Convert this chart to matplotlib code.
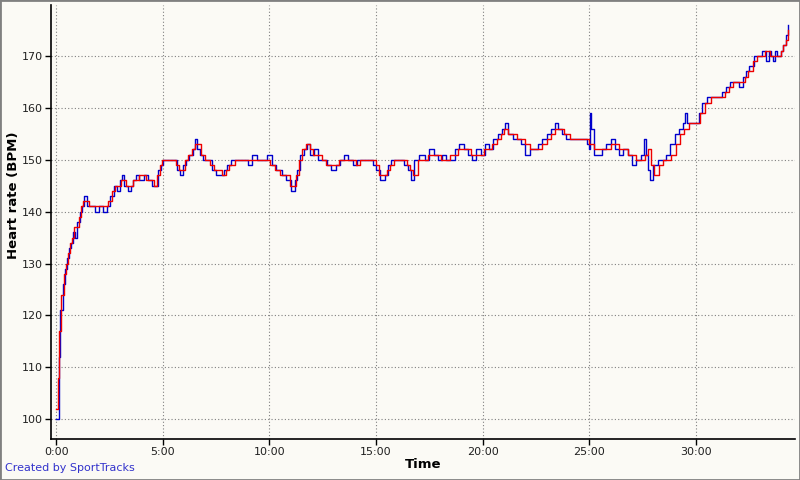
import matplotlib
matplotlib.use("Agg")
import matplotlib.pyplot as plt
from matplotlib.ticker import FuncFormatter, MultipleLocator

blue_time = [0, 0.08, 0.12, 0.2, 0.3, 0.4, 0.5, 0.6, 0.7, 0.8, 0.9, 1.0, 1.1, 1.2, 1.3, 1.45,
             1.6, 1.7, 1.8, 2.0, 2.2, 2.4, 2.55, 2.7, 2.85, 3.0, 3.1, 3.2, 3.35, 3.5, 3.6, 3.75,
             3.9, 4.1, 4.3, 4.5, 4.7, 4.8, 4.9, 5.0, 5.2, 5.5, 5.65, 5.8, 5.95, 6.1, 6.25, 6.4,
             6.5, 6.6, 6.75, 6.9, 7.1, 7.3, 7.5, 7.7, 7.85, 8.0, 8.2, 8.5, 8.8, 9.0, 9.2, 9.4,
             9.6, 9.9, 10.1, 10.3, 10.6, 10.8, 11.0, 11.2, 11.3, 11.45, 11.6, 11.75, 11.9, 12.1,
             12.3, 12.5, 12.7, 12.9, 13.1, 13.3, 13.5, 13.7, 13.9, 14.1, 14.3, 14.6, 14.85, 15.0,
             15.2, 15.4, 15.55, 15.7, 15.9, 16.1, 16.3, 16.5, 16.65, 16.8, 17.0, 17.3, 17.5, 17.7,
             17.9, 18.1, 18.3, 18.5, 18.7, 18.9, 19.1, 19.3, 19.5, 19.7, 19.9, 20.1, 20.3, 20.5,
             20.7, 20.9, 21.05, 21.2, 21.4, 21.6, 21.8, 22.0, 22.2, 22.4, 22.6, 22.8, 23.0, 23.2,
             23.4, 23.55, 23.7, 23.9, 24.2, 24.6, 24.9, 25.0, 25.05, 25.1, 25.2, 25.4, 25.6, 25.8,
             26.0, 26.2, 26.4, 26.6, 26.8, 27.0, 27.2, 27.4, 27.55, 27.65, 27.75, 27.85, 28.0, 28.2,
             28.4, 28.6, 28.8, 29.0, 29.2, 29.4, 29.5, 29.6, 29.8, 30.0, 30.15, 30.3, 30.5, 30.8,
             31.0, 31.2, 31.4, 31.6, 31.8, 32.0, 32.2, 32.35, 32.5, 32.7, 32.9, 33.1, 33.3, 33.4,
             33.5, 33.6, 33.7, 33.8, 34.0, 34.1, 34.2, 34.3]
blue_hr = [100, 100, 112, 121, 126, 129, 131, 133, 134, 136, 135, 138, 140, 141, 143, 141,
           141, 141, 140, 141, 140, 141, 143, 145, 144, 146, 147, 145, 144, 145, 146, 147,
           146, 147, 146, 145, 145, 148, 149, 150, 150, 150, 148, 147, 149, 150, 151, 152,
           154, 152, 151, 150, 150, 148, 147, 147, 148, 149, 150, 150, 150, 149, 151, 150,
           150, 151, 149, 148, 147, 146, 144, 146, 148, 151, 152, 153, 151, 152,
           150, 150, 149, 148, 149, 150, 151, 150, 149, 150, 150, 150, 149, 148,
           146, 147, 149, 150, 150, 150, 149, 148, 146, 150, 151, 150, 152, 151,
           150, 151, 150, 150, 152, 153, 152, 151, 150, 152, 151, 153, 152, 154,
           155, 156, 157, 155, 154, 154, 153, 151, 152, 152, 153, 154, 155, 156,
           157, 156, 155, 154, 154, 154, 153, 152, 159, 156, 151, 151, 152, 153,
           154, 152, 151, 152, 151, 149, 150, 151, 154, 151, 148, 146, 149, 150,
           150, 151, 153, 155, 156, 157, 159, 157, 157, 157, 159, 161, 162, 162,
           162, 163, 164, 165, 165, 164, 166, 167, 168, 170, 170, 171, 169, 171,
           170, 169, 171, 170, 171, 172, 174, 176]

red_time = [0, 0.1, 0.15, 0.25, 0.35, 0.45, 0.55, 0.65, 0.75, 0.85, 0.95, 1.05, 1.15, 1.25, 1.4,
            1.55, 1.7, 1.85, 2.05, 2.25, 2.45, 2.6, 2.75, 2.9, 3.05, 3.2, 3.3, 3.45, 3.6, 3.75,
            3.9, 4.05, 4.2, 4.4, 4.6, 4.75, 4.85, 4.95, 5.1, 5.4, 5.6, 5.75, 5.9, 6.05, 6.2,
            6.35, 6.5, 6.65, 6.8, 7.0, 7.2, 7.4, 7.6, 7.8, 7.95, 8.1, 8.4, 8.7, 8.95, 9.15, 9.35,
            9.55, 9.85, 10.05, 10.25, 10.5, 10.75, 10.95, 11.15, 11.25, 11.4, 11.55, 11.7, 11.9,
            12.05, 12.25, 12.45, 12.65, 12.85, 13.05, 13.25, 13.45, 13.65, 13.85, 14.05, 14.25,
            14.55, 14.8, 15.0, 15.15, 15.35, 15.5, 15.65, 15.85, 16.05, 16.25, 16.45, 16.6, 16.75,
            16.95, 17.25, 17.45, 17.65, 17.85, 18.05, 18.25, 18.45, 18.65, 18.85, 19.05, 19.25,
            19.45, 19.65, 19.85, 20.05, 20.25, 20.45, 20.65, 20.85, 21.0, 21.2, 21.4, 21.6, 21.8,
            22.0, 22.2, 22.4, 22.6, 22.8, 23.0, 23.2, 23.4, 23.6, 23.8, 24.1, 24.5, 24.8, 25.0,
            25.2, 25.4, 25.6, 25.8, 26.0, 26.2, 26.4, 26.6, 26.8, 27.0, 27.2, 27.4, 27.6, 27.75,
            27.9, 28.05, 28.25, 28.45, 28.65, 28.85, 29.05, 29.25, 29.45, 29.65, 29.85, 30.0,
            30.2, 30.4, 30.7, 30.95, 31.15, 31.35, 31.55, 31.75, 31.95, 32.15, 32.3, 32.45, 32.65,
            32.85, 33.05, 33.25, 33.45, 33.65, 33.85, 34.0, 34.1, 34.2, 34.3]
red_hr = [102, 108, 117, 124, 128, 130, 132, 134, 135, 137, 137, 139, 141, 142, 142,
          141, 141, 141, 141, 141, 142, 144, 145, 145, 146, 146, 145, 145, 146, 146,
          147, 147, 146, 146, 145, 147, 149, 150, 150, 150, 149, 148, 148, 150, 151,
          152, 153, 153, 151, 150, 149, 148, 148, 147, 148, 149, 150, 150, 150, 150, 150,
          150, 150, 149, 148, 147, 147, 145, 145, 147, 150, 152, 153, 152,
          151, 151, 150, 149, 149, 149, 150, 150, 150, 150, 149, 150,
          150, 150, 149, 147, 147, 148, 149, 150, 150, 150, 149, 148, 147,
          150, 150, 151, 151, 151, 150, 150, 151, 151, 152, 152, 152,
          151, 151, 151, 152, 152, 153, 154, 155, 156, 155, 155, 154, 154,
          153, 152, 152, 152, 153, 154, 155, 156, 156, 155, 154, 154, 154, 153,
          152, 152, 152, 152, 153, 153, 152, 152, 151, 151, 150, 150, 151, 152,
          149, 147, 149, 150, 150, 151, 153, 155, 156, 157, 157, 157,
          159, 161, 162, 162, 162, 163, 164, 165, 165, 165, 166, 167, 169,
          170, 170, 171, 170, 170, 170, 171, 172, 173, 175]

fig = plt.figure(figsize=(8, 4.8), dpi=100, facecolor="#FBFAF5")
ax = fig.add_axes([0.064, 0.0854, 0.930, 0.9042])
ax.set_facecolor("#FBFAF5")

ax.plot(blue_time, blue_hr, drawstyle="steps-post", color="#0000CC", lw=1.0, zorder=3)
ax.plot(red_time, red_hr, drawstyle="steps-post", color="#EE0000", lw=1.0, zorder=4)

ax.set_xlim(-0.23, 34.65)
ax.set_ylim(96.2, 179.8)
ax.xaxis.set_major_locator(MultipleLocator(5))
ax.yaxis.set_major_locator(MultipleLocator(10))
ax.xaxis.set_major_formatter(FuncFormatter(lambda v, p: f"{int(round(v))}:00"))
ax.yaxis.set_major_formatter(FuncFormatter(lambda v, p: f"{int(round(v))}"))
ax.grid(True, color="#808080", linestyle=(0, (1, 2)), linewidth=0.8)
ax.set_axisbelow(True)

for s in ["top", "right"]:
    ax.spines[s].set_visible(False)
for s in ["left", "bottom"]:
    ax.spines[s].set_color("black")
    ax.spines[s].set_linewidth(1.2)
ax.tick_params(axis="both", direction="out", length=4, width=1, labelsize=8,
               colors="black", labelcolor="#202020", pad=2)

fig.text(14 / 800, 1 - 195 / 480, "Heart rate (BPM)", rotation=90, ha="center", va="center",
         fontsize=9.5, fontweight="bold")
fig.text(423 / 800, 1 - 465 / 480, "Time", ha="center", va="center",
         fontsize=9.5, fontweight="bold")

fig.text(0.006, 0.018, "Created by SportTracks", color="#3333CC", fontsize=8)

border = plt.Rectangle((0.0, 0.0), 1.0, 1.0, transform=fig.transFigure, fill=False,
                       edgecolor="#808080", linewidth=2)
fig.add_artist(border)

fig.savefig("out.png", dpi=100, facecolor=fig.get_facecolor())
